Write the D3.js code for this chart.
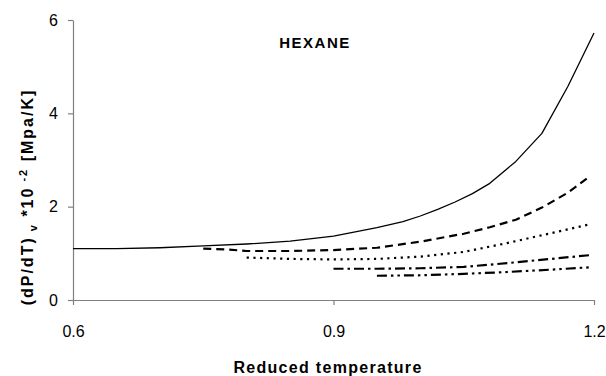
<!DOCTYPE html>
<html>
<head>
<meta charset="utf-8">
<script src="https://cdn.jsdelivr.net/npm/d3@7"></script>
<style>
  html, body { margin: 0; padding: 0; background: #fff; }
  svg { display: block; font-family: "Liberation Sans", Arial, sans-serif; }
</style>
</head>
<body>
<svg id="chart" width="606" height="376"></svg>
<script>
// Reduced temperature vs (dP/dT)_v for hexane, five isochores
const xTicks = [0.6, 0.9, 1.2];
const yTicks = [0, 2, 4, 6];

const seriesA = [ // solid
  [0.60, 1.10], [0.65, 1.10], [0.70, 1.12], [0.75, 1.16], [0.80, 1.20],
  [0.85, 1.26], [0.90, 1.37], [0.95, 1.55], [0.98, 1.68], [1.00, 1.80],
  [1.02, 1.94], [1.04, 2.10], [1.06, 2.28], [1.08, 2.50], [1.11, 2.97],
  [1.14, 3.57], [1.17, 4.58], [1.20, 5.72]
];
const seriesB = [ // dashed
  [0.75, 1.10], [0.78, 1.08], [0.80, 1.05], [0.85, 1.05], [0.90, 1.07],
  [0.95, 1.12], [1.00, 1.25], [1.05, 1.42], [1.08, 1.56], [1.11, 1.72],
  [1.14, 1.98], [1.17, 2.30], [1.195, 2.65]
];
const seriesC = [ // dotted
  [0.80, 0.91], [0.85, 0.88], [0.90, 0.87], [0.95, 0.88], [1.00, 0.93],
  [1.05, 1.03], [1.10, 1.22], [1.15, 1.43], [1.197, 1.63]
];
const seriesD = [ // dash-dot
  [0.90, 0.67], [0.95, 0.67], [1.00, 0.68], [1.05, 0.71], [1.10, 0.79],
  [1.15, 0.88], [1.195, 0.96]
];
const seriesE = [ // dash-dot-dot
  [0.95, 0.52], [1.00, 0.53], [1.05, 0.56], [1.10, 0.60], [1.15, 0.65],
  [1.195, 0.70]
];

const svg = d3.select("#chart");
const x = d3.scaleLinear().domain([0.6, 1.2]).range([73, 594]);
const y = d3.scaleLinear().domain([0, 6]).range([300, 20]);
const axisColor = "#808080";

// axes
const gx = svg.append("g").attr("transform", "translate(0,300)")
  .call(d3.axisBottom(x).tickValues(xTicks).tickFormat(d3.format(".1f"))
    .tickSize(5).tickSizeOuter(0).tickPadding(21));
const gy = svg.append("g").attr("transform", "translate(73,0)")
  .call(d3.axisLeft(y).tickValues(yTicks).tickFormat(d3.format("d"))
    .tickSize(5).tickSizeOuter(0).tickPadding(10));
[gx, gy].forEach(g => {
  g.select(".domain").attr("stroke", axisColor).attr("stroke-width", 1.2);
  g.selectAll(".tick line").attr("stroke", axisColor).attr("stroke-width", 1.2);
  g.selectAll(".tick text").attr("fill", "#000").style("font-size", "16px")
    .style("font-family", "'Liberation Sans', Arial, sans-serif");
});

// curves
const line = d3.line().x(d => x(d[0])).y(d => y(d[1]));
const styles = [
  { data: seriesA, w: 1.3, dash: null },
  { data: seriesB, w: 2.2, dash: "8,5" },
  { data: seriesC, w: 2.2, dash: "2.2,4.5" },
  { data: seriesD, w: 2.2, dash: "10,4,2.5,4" },
  { data: seriesE, w: 2.2, dash: "10,4,2.5,4,2.5,4" }
];
styles.forEach(s => {
  svg.append("path").datum(s.data)
    .attr("d", line)
    .attr("fill", "none")
    .attr("stroke", "#000")
    .attr("stroke-width", s.w)
    .attr("stroke-linejoin", "round")
    .attr("stroke-dasharray", s.dash);
});

// labels
svg.append("text").attr("x", 315).attr("y", 48)
  .attr("text-anchor", "middle")
  .style("font-size", "15px").style("font-weight", "bold")
  .style("letter-spacing", "1.5px")
  .text("HEXANE");

svg.append("text").attr("x", 328).attr("y", 373)
  .attr("text-anchor", "middle")
  .style("font-size", "16px").style("font-weight", "bold")
  .style("letter-spacing", "1.3px")
  .text("Reduced temperature");

const yt = svg.append("text")
  .attr("transform", "translate(33,197) rotate(-90)")
  .attr("text-anchor", "middle")
  .style("font-size", "16px").style("font-weight", "bold")
  .style("letter-spacing", "2px");
yt.append("tspan").text("(dP/dT)");
yt.append("tspan").attr("dy", 4).style("font-size", "11px").text(" v");
yt.append("tspan").attr("dy", -4).text(" *10");
yt.append("tspan").attr("dy", -6).style("font-size", "11px").text(" -2");
yt.append("tspan").attr("dy", 6).text(" [Mpa/K]");
</script>
</body>
</html>
